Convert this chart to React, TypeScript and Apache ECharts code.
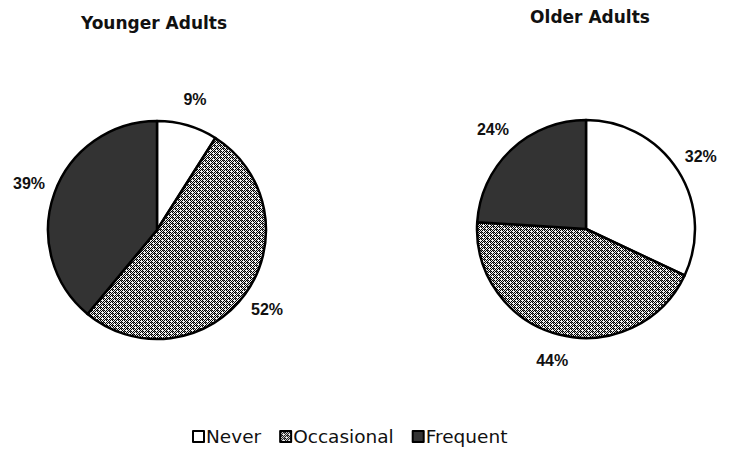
import React, { useEffect, useRef } from "react";
import * as echarts from "echarts";

const categories = ["Never", "Occasional", "Frequent"];
const youngerValues = [9, 52, 39];
const olderValues = [32, 44, 24];
const titles = ["Younger Adults", "Older Adults"];

function makePattern(): HTMLCanvasElement {
  const c = document.createElement("canvas");
  c.width = 6;
  c.height = 6;
  const ctx = c.getContext("2d")!;
  for (let y = 0; y < 6; y++) {
    for (let x = 0; x < 6; x++) {
      let dark = (x + y) % 2 === 0;
      if ((x === 0 && y === 0) || (x === 3 && y === 3)) dark = false;
      ctx.fillStyle = dark ? "#000000" : "#f0f0f0";
      ctx.fillRect(x, y, 1, 1);
    }
  }
  ctx.fillStyle = "#555555";
  ctx.fillRect(1, 4, 1, 1);
  ctx.fillRect(4, 1, 1, 1);
  return c;
}

export default function App() {
  const ref = useRef<HTMLDivElement>(null);
  useEffect(() => {
    if (!ref.current) return;
    document.body.style.margin = "0";
    const chart = echarts.init(ref.current, null, { renderer: "svg" });
    const pattern = makePattern();
    const colors: any[] = [
      "#ffffff",
      { image: pattern, repeat: "repeat" },
      "#333333",
    ];
    const mkData = (vals: number[]) =>
      vals.map((v, i) => ({
        name: categories[i],
        value: v,
        itemStyle: { color: colors[i] },
      }));
    const mkLabelData = (vals: number[]) =>
      vals.map((v, i) => ({ name: categories[i], value: v }));
    const font = "DejaVu Sans, Verdana, sans-serif";
    const labelFont = "Liberation Sans, Arial, sans-serif";
    const pieBase = {
      type: "pie",
      radius: 109,
      startAngle: 90,
      clockwise: true,
      itemStyle: { borderColor: "#000", borderWidth: 2.5 },
      emphasis: { disabled: true },
      label: { show: false },
      labelLine: { show: false },
    };
    const labelBase = {
      type: "pie",
      radius: [0, 266],
      startAngle: 90,
      clockwise: true,
      silent: true,
      emphasis: { disabled: true },
      itemStyle: { color: "rgba(0,0,0,0)", borderWidth: 0 },
      label: {
        show: true,
        position: "inside",
        formatter: "{c}%",
        fontFamily: labelFont,
        fontWeight: "bold",
        fontSize: 16,
        color: "#111",
        overflow: "none",
      },
      labelLine: { show: false },
    };
    chart.setOption({
      animation: false,
      backgroundColor: "#fff",
      title: [
        {
          text: titles[0],
          left: 149,
          top: 9,
          textAlign: "center",
          textStyle: { fontFamily: font, fontWeight: "bold", fontSize: 17, color: "#111" },
        },
        {
          text: titles[1],
          left: 585,
          top: 3,
          textAlign: "center",
          textStyle: { fontFamily: font, fontWeight: "bold", fontSize: 17, color: "#111" },
        },
      ],
      legend: {
        data: categories,
        top: 422,
        left: 187,
        icon: "rect",
        itemWidth: 11,
        itemHeight: 11,
        itemGap: 18,
        textStyle: { fontFamily: font, fontSize: 18.5, color: "#111", padding: [0, 0, 0, -3] },
        itemStyle: { borderColor: "#000", borderWidth: 2 },
      },
      series: [
        { ...pieBase, name: titles[0], center: [157, 230], data: mkData(youngerValues) },
        { ...pieBase, name: titles[1], center: [586, 229], data: mkData(olderValues) },
        { ...labelBase, name: titles[0] + " labels", center: [157, 230], data: mkLabelData(youngerValues) },
        { ...labelBase, name: titles[1] + " labels", center: [586, 229], data: mkLabelData(olderValues) },
      ],
    });
    return () => chart.dispose();
  }, []);
  return <div ref={ref} style={{ width: 729, height: 454 }} />;
}
